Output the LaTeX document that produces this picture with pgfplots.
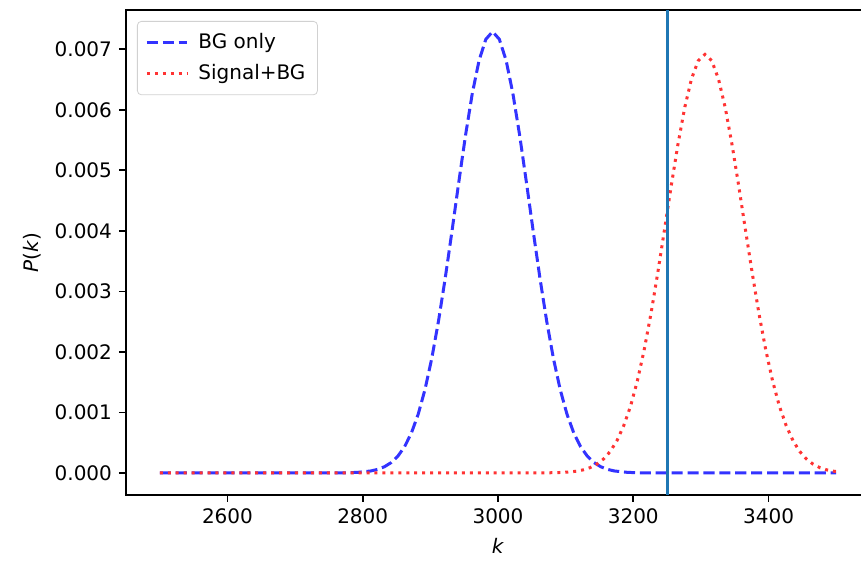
\documentclass[border=0pt]{standalone}
\usepackage{fontspec}
\setmainfont{DejaVu Sans}
\usepackage{pgfplots}
\pgfplotsset{compat=1.18}
\usepackage{pgfplotstable}

\pgfplotstableread{
k p
2500 0
2600 0
2692 0.000000002
2742 0.00000022
2772 0.0000023
2792 0.0000093
2812 0.0000329
2822 0.000059
2832 0.000102
2842 0.000171
2852 0.000278
2862 0.000436
2872 0.000661
2882 0.000970
2892 0.001376
2902 0.001888
2912 0.002507
2922 0.003219
2932 0.003998
2942 0.004802
2952 0.005579
2962 0.006269
2972 0.006814
2982 0.007164
2992 0.007290
3002 0.007164
3012 0.006814
3022 0.006269
3032 0.005579
3042 0.004802
3052 0.003998
3062 0.003219
3072 0.002507
3082 0.001888
3092 0.001376
3102 0.000970
3112 0.000661
3122 0.000436
3132 0.000278
3142 0.000171
3152 0.000102
3162 0.000059
3172 0.0000329
3192 0.0000093
3212 0.0000023
3242 0.00000022
3292 0.000000002
3400 0
3500 0
}\bgtable

\pgfplotstableread{
k p
2500 0
2800 0
3006 0.000000008
3056 0.00000053
3086 0.0000045
3106 0.0000162
3116 0.0000293
3126 0.0000513
3136 0.0000871
3146 0.000144
3156 0.000230
3166 0.000356
3176 0.000537
3186 0.000784
3196 0.001105
3206 0.001519
3216 0.002026
3226 0.002622
3236 0.003291
3246 0.004007
3256 0.004733
3266 0.005425
3276 0.006033
3286 0.006507
3296 0.006810
3306 0.006914
3316 0.006810
3326 0.006507
3336 0.006033
3346 0.005425
3356 0.004733
3366 0.004007
3376 0.003291
3386 0.002622
3396 0.002026
3406 0.001519
3416 0.001105
3426 0.000784
3436 0.000537
3446 0.000356
3456 0.000230
3466 0.000144
3476 0.0000871
3486 0.0000513
3496 0.0000293
3500 0.0000231
}\sbtable

\definecolor{mplblue}{HTML}{1F77B4}

\begin{document}
\begin{tikzpicture}
\begin{axis}[
  scale only axis,
  width=372pt, height=242.5pt,
  xmin=2450, xmax=3550,
  ymin=-0.000364, ymax=0.007648,
  xtick={2600,2800,3000,3200,3400},
  ytick={0,0.001,0.002,0.003,0.004,0.005,0.006,0.007},
  scaled y ticks=false,
  yticklabel style={/pgf/number format/fixed, /pgf/number format/fixed zerofill, /pgf/number format/precision=3},
  xticklabel style={/pgf/number format/1000 sep={}},
  /pgf/number format/assume math mode=true,
  tick align=outside,
  tick pos=left,
  major tick length=3.5pt,
  every tick/.style={black, line width=0.8pt},
  axis line style={line width=0.8pt},
  ticklabel style={font=\fontsize{10}{12}\selectfont},
  xlabel={\textit{k}},
  ylabel={\textit{P}(\textit{k})},
  label style={font=\fontsize{10}{12}\selectfont},
  legend style={at={(axis description cs:0,1)}, anchor=north west, xshift=5.5pt, yshift=-5.5pt,
    draw=black!18, rounded corners=2pt, fill=white, font=\fontsize{10}{12}\selectfont,
    inner xsep=4pt, inner ysep=4pt, row sep=2.5pt, column sep=3pt},
  legend cell align=left,
  legend image code/.code={\draw[#1] (0pt,0pt) -- (20pt,0pt);},
]
\addplot[color=blue!80, line width=1.5pt, dash pattern=on 5.55pt off 2.4pt] table[x=k,y=p] {\bgtable};
\addlegendentry{BG only}
\addplot[color=red!80, line width=1.5pt, dash pattern=on 1.5pt off 2.475pt] table[x=k,y=p] {\sbtable};
\addlegendentry{Signal+BG}
\addplot[color=mplblue, line width=1.5pt, forget plot] coordinates {(3250,-0.000364) (3250,0.007648)};
\coordinate (o) at (rel axis cs:0,0);
\end{axis}
\pgfresetboundingbox
\useasboundingbox ([shift={(-63pt,-35pt)}]o) rectangle ([shift={(367.5pt,247.5pt)}]o);
\end{tikzpicture}
\end{document}
